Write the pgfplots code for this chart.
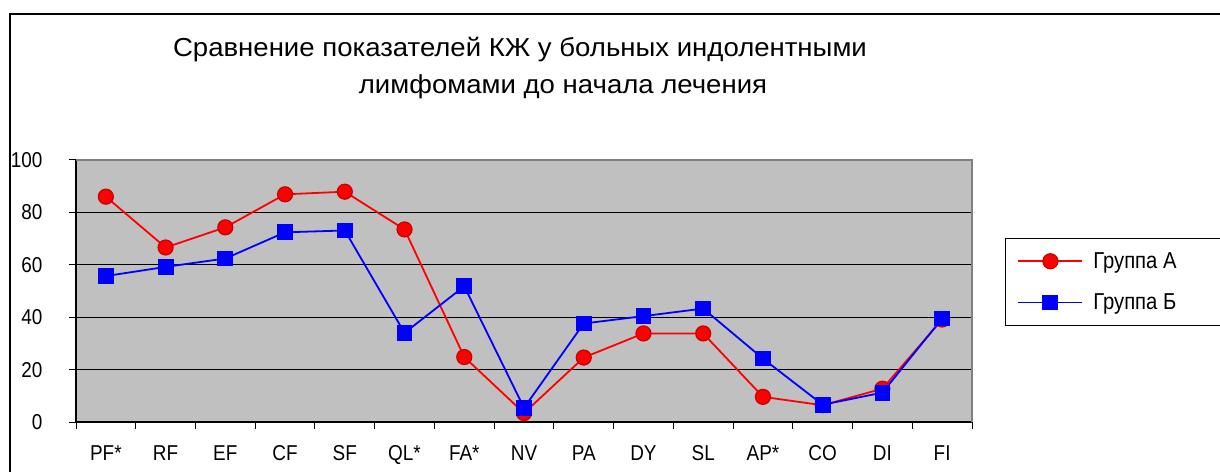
\documentclass[border=0pt]{standalone}
\usepackage{fontspec}
\setmainfont{Liberation Sans}[FakeStretch=0.88]
\newfontfamily\titlefont{Liberation Sans}[FakeStretch=1.06]
\usepackage{pgfplots}
\pgfplotsset{compat=1.18}
\definecolor{plotgray}{RGB}{192,192,192}
\definecolor{bordergray}{RGB}{128,128,128}
\definecolor{darkred}{RGB}{200,0,0}
\definecolor{pureblue}{RGB}{0,0,255}
\definecolor{purered}{RGB}{255,0,0}
\begin{document}
\begin{tikzpicture}
\path[use as bounding box] (0pt,0pt) rectangle (1220pt,471pt);
\draw[line width=2pt] (1240pt,457pt) -- (10pt,457pt) -- (10pt,-10pt);
\node[font=\titlefont\fontsize{26}{29}\selectfont] at (520pt,421pt) {Сравнение показателей КЖ у больных индолентными};
\node[font=\titlefont\fontsize{26}{29}\selectfont] at (563pt,384pt) {лимфомами до начала лечения};
\begin{axis}[
  at={(76pt,49pt)}, anchor=south west,
  scale only axis, width=896pt, height=262pt,
  xmin=-0.5, xmax=14.5, ymin=0, ymax=100,
  axis background/.style={fill=plotgray},
  axis x line*=bottom, axis y line*=left,
  axis line style={line width=1.3pt, black},
  ytick={0,20,...,100},
  ymajorgrids, grid style={black, line width=1pt},
  xtick={-0.5,0.5,...,14.5},
  x tick label as interval,
  xticklabels={PF*,RF,EF,CF,SF,QL*,FA*,NV,PA,DY,SL,AP*,CO,DI,FI},
  tick align=outside, major tick length=7pt,
  tick style={black, line width=1pt},
  /pgf/number format/assume math mode=true,
  ticklabel style={font=\fontsize{21.5}{24}\selectfont},
  yticklabel style={xshift=-23pt},
  xticklabel style={yshift=-13pt},
  legend style={at={(1.0368,0.702)}, anchor=north west, draw=black, line width=1pt, fill=white,
    font=\fontsize{23}{25}\selectfont, row sep=20pt, inner xsep=12pt, inner ysep=12pt},
  legend cell align=left,
  legend image code/.code={\draw[mark repeat=2,mark phase=2] plot coordinates {(0pt,0pt) (32pt,0pt) (64pt,0pt)};},
  clip=false,
]
\draw[bordergray, line width=2pt] (axis cs:-0.5,100) -- (axis cs:14.5,100) -- (axis cs:14.5,0);
\addplot[purered, line width=1.8pt, mark=*, mark size=7.5pt, mark options={fill=purered, draw=darkred, line width=1.2pt}]
  coordinates {(0,86.0) (1,66.6) (2,74.3) (3,86.9) (4,87.9) (5,73.5) (6,24.8) (7,3.4) (8,24.6) (9,33.8) (10,33.8) (11,9.6) (12,6.4) (13,12.7) (14,39.1)};
\addlegendentry{\hspace{8pt}\makebox[150pt][l]{Группа А}}
\addplot[pureblue, line width=1.8pt, mark=square*, mark size=7pt, mark options={fill=pureblue, draw=pureblue}]
  coordinates {(0,55.7) (1,59.2) (2,62.4) (3,72.4) (4,73.1) (5,34.0) (6,51.8) (7,5.4) (8,37.6) (9,40.4) (10,43.3) (11,24.2) (12,6.6) (13,11.2) (14,39.5)};
\addlegendentry{\hspace{8pt}\makebox[150pt][l]{Группа Б}}
\end{axis}
\end{tikzpicture}
\end{document}
